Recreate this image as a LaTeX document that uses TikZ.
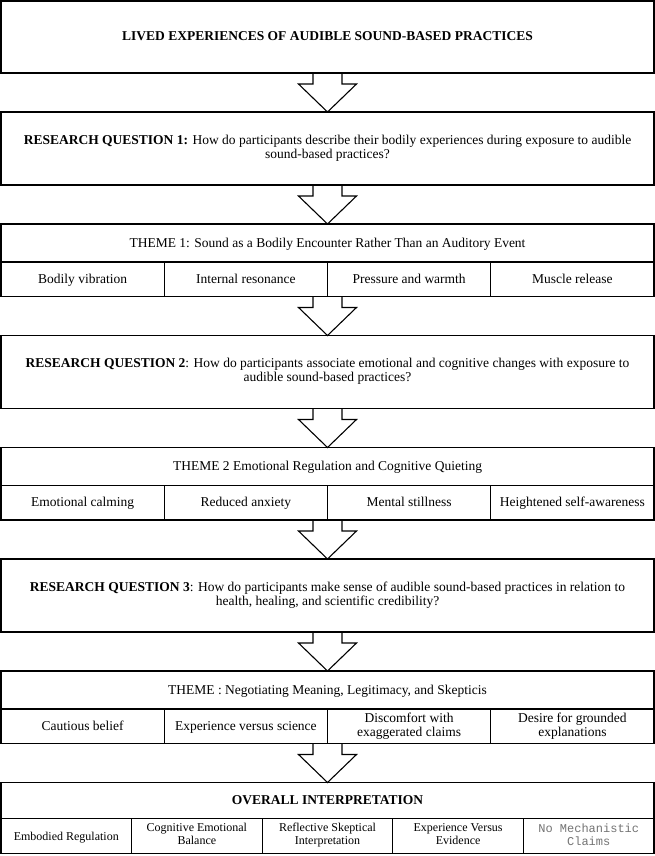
\documentclass[tikz,border=0pt]{standalone}
\usepackage{fontspec}
\setmainfont{Liberation Serif}
\setmonofont{Liberation Mono}
\usetikzlibrary{positioning}

% hollow block arrow from one box to the next
\newcommand{\flowarrow}[2]{%
  \draw[arrowbox] ([xshift=-14.5pt]#1) -- ++(0,-11pt) -- ++(-14.5pt,0) -- (#2) -- ([xshift=29pt,yshift=-11pt]#1) -- ++(-14.5pt,0) -- ++(0,11pt);}
\newcommand{\boxstrut}{\rule[-3.5pt]{0pt}{15pt}}

\begin{document}
\begin{tikzpicture}[node distance=39pt,
    box/.style={draw, line width=1.1pt, outer sep=0pt, inner sep=2pt, align=center, font=\fontsize{13.5}{14}\selectfont, execute at begin node=\boxstrut, execute at end node=\boxstrut},
    titlebox/.style={box, minimum width=653pt, minimum height=72pt},
    qbox/.style={box, minimum width=653pt, minimum height=73pt},
    hdrbox/.style={box, minimum width=653pt, minimum height=38pt},
    subbox/.style={box, minimum width=163.25pt, minimum height=34.5pt},
    ovbox/.style={box, minimum width=653pt, minimum height=36pt},
    ovsub/.style={box, minimum width=130.6pt, minimum height=35pt, font=\fontsize{12}{13}\selectfont},
    arrowbox/.style={draw, line width=1.1pt, line join=miter}]
        \useasboundingbox (0,0) rectangle (655pt,-856pt);

        % Title
        \node[titlebox, anchor=north] (lived) at (327.5pt,-1pt) {\textbf{LIVED EXPERIENCES OF AUDIBLE SOUND-BASED PRACTICES}};

        % Research question 1 and theme 1
        \node[qbox, below=of lived] (rq1) {\textbf{RESEARCH QUESTION 1:} How do participants describe their bodily experiences during exposure to audible\\sound-based practices?};
        \node[hdrbox, below=of rq1] (th1) {THEME 1: Sound as a Bodily Encounter Rather Than an Auditory Event};
        \node[subbox, anchor=north west] (th1a) at (th1.south west) {Bodily vibration};
        \node[subbox, right=0pt of th1a] (th1b) {Internal resonance};
        \node[subbox, right=0pt of th1b] (th1c) {Pressure and warmth};
        \node[subbox, right=0pt of th1c] (th1d) {Muscle release};

        % Research question 2 and theme 2
        \node[qbox, below=73.5pt of th1] (rq2) {\textbf{RESEARCH QUESTION 2}: How do participants associate emotional and cognitive changes with exposure to\\audible sound-based practices?};
        \node[hdrbox, below=of rq2] (th2) {THEME 2 Emotional Regulation and Cognitive Quieting};
        \node[subbox, anchor=north west] (th2a) at (th2.south west) {Emotional calming};
        \node[subbox, right=0pt of th2a] (th2b) {Reduced anxiety};
        \node[subbox, right=0pt of th2b] (th2c) {Mental stillness};
        \node[subbox, right=0pt of th2c] (th2d) {Heightened self-awareness};

        % Research question 3 and theme 3
        \node[qbox, below=73.5pt of th2] (rq3) {\textbf{RESEARCH QUESTION 3}: How do participants make sense of audible sound-based practices in relation to\\health, healing, and scientific credibility?};
        \node[hdrbox, below=of rq3] (th3) {THEME : Negotiating Meaning, Legitimacy, and Skepticis};
        \node[subbox, anchor=north west] (th3a) at (th3.south west) {Cautious belief};
        \node[subbox, right=0pt of th3a] (th3b) {Experience versus science};
        \node[subbox, right=0pt of th3b] (th3c) {Discomfort with\\exaggerated claims};
        \node[subbox, right=0pt of th3c] (th3d) {Desire for grounded\\explanations};

        % Overall interpretation
        \node[ovbox, below=73.5pt of th3] (overall) {\textbf{OVERALL INTERPRETATION}};
        \node[ovsub, anchor=north west] (ova) at (overall.south west) {Embodied Regulation};
        \node[ovsub, right=0pt of ova] (ovb) {Cognitive Emotional\\Balance};
        \node[ovsub, right=0pt of ovb] (ovc) {Reflective Skeptical\\Interpretation};
        \node[ovsub, right=0pt of ovc] (ovd) {Experience Versus\\Evidence};
        \node[ovsub, right=0pt of ovd, font=\ttfamily\fontsize{12}{13}\selectfont, text=black!55] (ove) {No Mechanistic\\Claims};

        % Arrows
        \flowarrow{lived.south}{rq1.north}
        \flowarrow{rq1.south}{th1.north}
        \flowarrow{th1b.south east}{rq2.north}
        \flowarrow{rq2.south}{th2.north}
        \flowarrow{th2b.south east}{rq3.north}
        \flowarrow{rq3.south}{th3.north}
        \flowarrow{th3b.south east}{overall.north}
    \end{tikzpicture}
\end{document}
